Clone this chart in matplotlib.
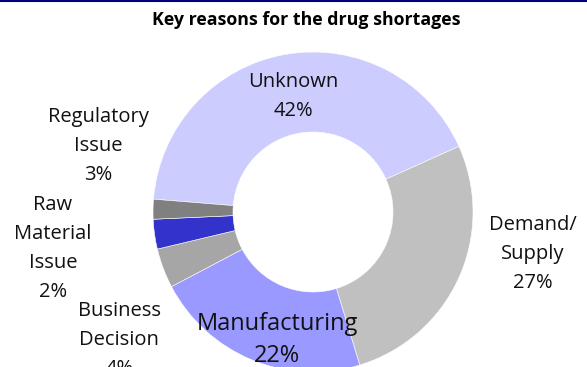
import matplotlib.pyplot as plt
from matplotlib.lines import Line2D

plt.rcParams["font.family"] = ["Open Sans", "DejaVu Sans"]

categories = ["Unknown", "Demand/\nSupply", "Manufacturing", "Business\nDecision",
              "Regulatory\nIssue", "Raw\nMaterial\nIssue"]
shares = [42, 27, 22, 4, 3, 2]
colors = ["#CCCCFF", "#C0C0C0", "#9999FF", "#A6A6A6", "#3333CC", "#808080"]

# label placement (in units of the outer radius) and font sizes
label_pos = [(-0.125, 0.72), (1.375, -0.26), (-0.225, -0.80),
             (-1.21, -0.80), (-1.34, 0.41), (-1.625, -0.23)]
label_size = [14.5, 14.5, 17, 14.5, 14.5, 14.5]
label_spacing = [1.6, 1.6, 1.4, 1.6, 1.6, 1.6]

W, H = 587, 367
fig = plt.figure(figsize=(W / 100, H / 100), dpi=100)
ax = fig.add_axes([0, 0, 1, 1])

cx, cy, r = 313, 212, 160
ax.pie(shares, colors=colors, startangle=175.4, counterclock=False,
       radius=1, wedgeprops=dict(width=0.5, edgecolor="white", linewidth=0.4))

ax.set_xlim(-cx / r, (W - cx) / r)
ax.set_ylim(-(H - cy) / r, cy / r)
ax.set_aspect("equal")
ax.axis("off")

for name, val, (x, y), fs, ls in zip(categories, shares, label_pos,
                                     label_size, label_spacing):
    ax.text(x, y, f"{name}\n{val}%", ha="center", va="center",
            fontsize=fs, linespacing=ls, color="#111111")

fig.text(306 / W, 1 - 20 / H, "Key reasons for the drug shortages",
         ha="center", va="center", fontsize=12.8, fontweight="bold")

fig.add_artist(Line2D([0, 1], [1 - 0.5 / H, 1 - 0.5 / H], color="#000080",
                      linewidth=1.5, transform=fig.transFigure))

fig.savefig("out.png", dpi=100)
